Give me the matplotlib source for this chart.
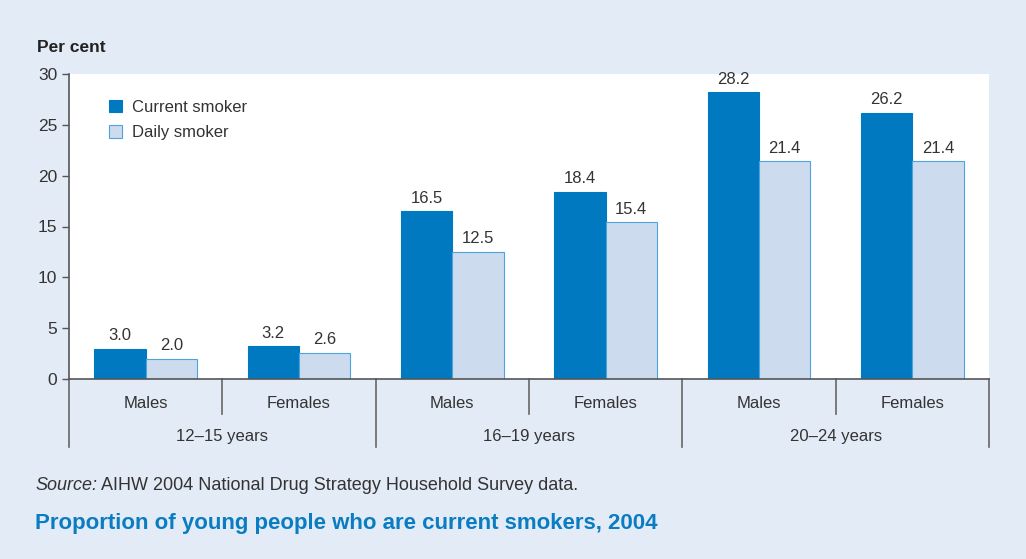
import matplotlib.pyplot as plt
import numpy as np

# data
groups = ['12\u201315 years', '16\u201319 years', '20\u201324 years']
sexes = ['Males', 'Females']
current = [3.0, 3.2, 16.5, 18.4, 28.2, 26.2]
daily = [2.0, 2.6, 12.5, 15.4, 21.4, 21.4]

plt.rcParams['font.family'] = ['Liberation Sans', 'DejaVu Sans']

bg = '#E3EBF6'
dark_blue = '#0079C1'
light_blue = '#CCDCEE'
edge_light = '#4DA3DB'
txt = '#333333'
line_col = '#555555'

fig = plt.figure(figsize=(10.26, 5.59), dpi=100, facecolor=bg)
W, H = 1026, 559
ax = fig.add_axes([69 / W, 1 - 379 / H, (989 - 69) / W, (379 - 74) / H])
ax.set_facecolor('white')

x = np.arange(len(current))
w = 0.335
b1 = ax.bar(x - w / 2, current, w, color=dark_blue, edgecolor=dark_blue, linewidth=0.8,
            label='Current smoker')
b2 = ax.bar(x + w / 2, daily, w, color=light_blue, edgecolor=edge_light, linewidth=0.8,
            label='Daily smoker')

for bars in (b1, b2):
    for r in bars:
        ax.annotate(f'{r.get_height():.1f}', (r.get_x() + r.get_width() / 2, r.get_height()),
                    xytext=(0, 4), textcoords='offset points', ha='center', va='bottom',
                    fontsize=12, color=txt)

ax.set_xlim(-0.5, len(current) - 0.5)
ax.set_ylim(0, 30)
ax.set_yticks(range(0, 31, 5))
ax.tick_params(axis='y', colors=line_col, labelcolor=txt, labelsize=12.5, length=5, width=1)
ax.set_xticks([])
for s in ['top', 'right']:
    ax.spines[s].set_visible(False)
for s in ['left', 'bottom']:
    ax.spines[s].set_color(line_col)
    ax.spines[s].set_linewidth(1.2)

# category labels and divider lines below the axis
trans = ax.get_xaxis_transform()
for i in range(len(current)):
    ax.text(i, -0.079, sexes[i % 2], transform=trans, ha='center', va='center',
            fontsize=12, color=txt)
for i in range(1, len(current), 2):
    ax.plot([i - 0.5, i - 0.5], [0, -0.115], transform=trans, color='#666666', lw=1.2,
            clip_on=False)
for g in range(len(groups) + 1):
    xg = 2 * g - 0.5
    ax.plot([xg, xg], [0, -0.223], transform=trans, color='#666666', lw=1.2, clip_on=False)
for g, name in enumerate(groups):
    ax.text(2 * g + 0.5, -0.187, name, transform=trans, ha='center', va='center',
            fontsize=12, color=txt)

leg = ax.legend(loc='upper left', bbox_to_anchor=(0.027, 0.965), frameon=False,
                fontsize=12, handlelength=0.8, handleheight=0.8, labelspacing=0.6,
                handletextpad=0.6)
for t in leg.get_texts():
    t.set_color(txt)

fig.text(37 / W, 1 - 47 / H, 'Per cent', fontsize=12.5, fontweight='bold', color='#222222',
         va='center')

src = fig.text(35 / W, 1 - 485 / H, 'Source:', fontsize=13, style='italic', color=txt,
               va='center')
fig.canvas.draw()
ax.annotate(' AIHW 2004 National Drug Strategy Household Survey data.', xy=(1, 0),
            xycoords=src, va='bottom', ha='left', fontsize=13, color=txt,
            annotation_clip=False)

fig.text(35 / W, 1 - 524 / H, 'Proportion of young people who are current smokers, 2004',
         fontsize=16, fontweight='bold', color='#0A7CC2', va='center')

fig.savefig('out.png', dpi=100, facecolor=bg)
